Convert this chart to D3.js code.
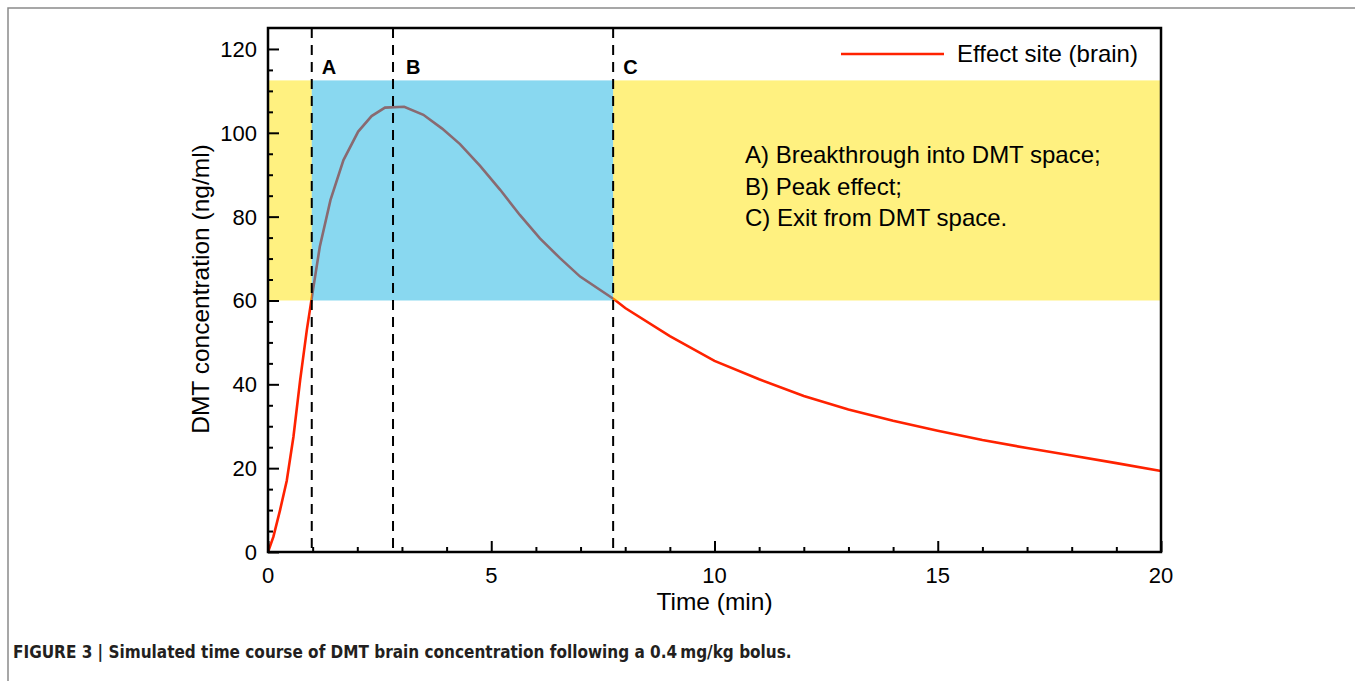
<!DOCTYPE html>
<html>
<head>
<meta charset="utf-8">
<script src="https://cdn.jsdelivr.net/npm/d3@7"></script>
<style>
  body { margin: 0; background: #fff; }
  svg { display: block; font-family: "Liberation Sans", Arial, sans-serif; }
</style>
</head>
<body>
<svg id="chart" width="1355" height="681"></svg>
<script>
// data
const timeMin = [0, 0.12, 0.27, 0.42, 0.57, 0.72, 0.87, 1.0, 1.16, 1.4, 1.69, 2.02, 2.32, 2.62, 3.05, 3.48,
                 3.9, 4.3, 4.75, 5.2, 5.64, 6.09, 6.54, 6.99, 7.75, 8, 9, 10, 11, 12, 13, 14, 15, 16, 17, 18, 19, 20];
const brainConc = [0, 3.6, 10, 17, 27.5, 41, 53, 62, 72.8, 84, 93.5, 100.3, 104, 106, 106.2, 104.3,
                   101, 97.3, 92.1, 86.4, 80.4, 74.8, 70.1, 65.7, 60.3, 58.2, 51.5, 45.6, 41.2, 37.2, 34, 31.3, 28.9, 26.7, 24.8, 23, 21.2, 19.3];
const markers = [{ label: "A", t: 0.98 }, { label: "B", t: 2.8 }, { label: "C", t: 7.73 }];
const bandLow = 60, bandHigh = 112.5;
const xTicks = [0, 5, 10, 15, 20];
const yTicks = [0, 20, 40, 60, 80, 100, 120];
const notes = ["A) Breakthrough into DMT space;", "B) Peak effect;", "C) Exit from DMT space."];

const svg = d3.select("#chart");
const plotLeft = 268, plotRight = 1161, plotTop = 28, plotBottom = 552;

const x = d3.scaleLinear().domain([0, 20]).range([plotLeft, plotRight]);
const y = d3.scaleLinear().domain([0, 125]).range([plotBottom, plotTop]);

// figure frame
svg.append("path").attr("d", "M8,681 V8 H1355").attr("fill", "none")
   .attr("stroke", "#8a8a8a").attr("stroke-width", 1.5);

// curve
const line = d3.line().x((d, i) => x(timeMin[i])).y(d => y(d));
svg.append("path").datum(brainConc).attr("d", line)
   .attr("fill", "none").attr("stroke", "#ff2200").attr("stroke-width", 2.6);

// bands drawn over the curve: yellow outside A..C, blue inside
const bands = [
  { t0: 0, t1: markers[0].t, fill: "#ffe301" },
  { t0: markers[0].t, t1: markers[2].t, fill: "#13b1e1" },
  { t0: markers[2].t, t1: 20, fill: "#ffe301" }
];
svg.selectAll(".band").data(bands).join("rect")
   .attr("x", d => x(d.t0)).attr("width", d => x(d.t1) - x(d.t0))
   .attr("y", y(bandHigh)).attr("height", y(bandLow) - y(bandHigh))
   .attr("fill", d => d.fill).attr("opacity", 0.5);

// dashed markers
markers.forEach((m, i) => {
  svg.append("line").attr("x1", x(m.t)).attr("x2", x(m.t)).attr("y1", plotTop).attr("y2", plotBottom)
     .attr("stroke", "#000").attr("stroke-width", 2).attr("stroke-dasharray", "10,7");
  svg.append("text").attr("x", x(m.t) + (i === 1 ? 13 : 10)).attr("y", 74).attr("font-size", 20)
     .attr("font-weight", "bold").text(m.label);
});

// axes
const yAxis = svg.append("g").attr("transform", `translate(${plotLeft},0)`)
  .call(d3.axisRight(y).tickValues(d3.range(0, 121, 5)).tickSize(5).tickFormat(""));
yAxis.selectAll(".tick line").filter(d => d % 20 === 0).attr("x2", 11);
yAxis.selectAll(".tick line").attr("stroke-width", 2);
yAxis.select(".domain").remove();

const xAxis = svg.append("g").attr("transform", `translate(0,${plotBottom})`)
  .call(d3.axisTop(x).tickValues(d3.range(0, 21, 1)).tickSize(5).tickFormat(""));
xAxis.selectAll(".tick line").filter(d => d % 5 === 0).attr("y2", -11);
xAxis.selectAll(".tick line").attr("stroke-width", 2);
xAxis.select(".domain").remove();

svg.append("rect").attr("x", plotLeft).attr("y", plotTop)
   .attr("width", plotRight - plotLeft).attr("height", plotBottom - plotTop)
   .attr("fill", "none").attr("stroke", "#000").attr("stroke-width", 2.5);

svg.selectAll(".ylab").data(yTicks).join("text")
   .attr("x", 257).attr("y", d => y(d) + 8).attr("text-anchor", "end")
   .attr("font-size", 22).text(d => d);
svg.selectAll(".xlab").data(xTicks).join("text")
   .attr("x", d => x(d)).attr("y", 583).attr("text-anchor", "middle")
   .attr("font-size", 22).text(d => d);

svg.append("text").attr("x", x(10)).attr("y", 610).attr("text-anchor", "middle")
   .attr("font-size", 24.5).text("Time (min)");
svg.append("text").attr("transform", "translate(209,289) rotate(-90)").attr("text-anchor", "middle")
   .attr("font-size", 24.5).text("DMT concentration (ng/ml)");

// legend
svg.append("line").attr("x1", 841).attr("x2", 944).attr("y1", 54).attr("y2", 54)
   .attr("stroke", "#ff2200").attr("stroke-width", 2.6);
svg.append("text").attr("x", 957).attr("y", 62).attr("font-size", 24).text("Effect site (brain)");

// notes
svg.selectAll(".note").data(notes).join("text")
   .attr("x", 745).attr("y", (d, i) => 163 + i * 31.5).attr("font-size", 24).text(d => d);

// caption
svg.append("text").attr("x", 13).attr("y", 658).attr("font-size", 17).attr("font-weight", "bold")
   .attr("fill", "#231f20")
   .style("font-family", "'Liberation Sans Narrow', 'DejaVu Sans Condensed', 'Arial Narrow', sans-serif")
   .text("FIGURE 3 | Simulated time course of DMT brain concentration following a 0.4\u2009mg/kg bolus.");
</script>
</body>
</html>
